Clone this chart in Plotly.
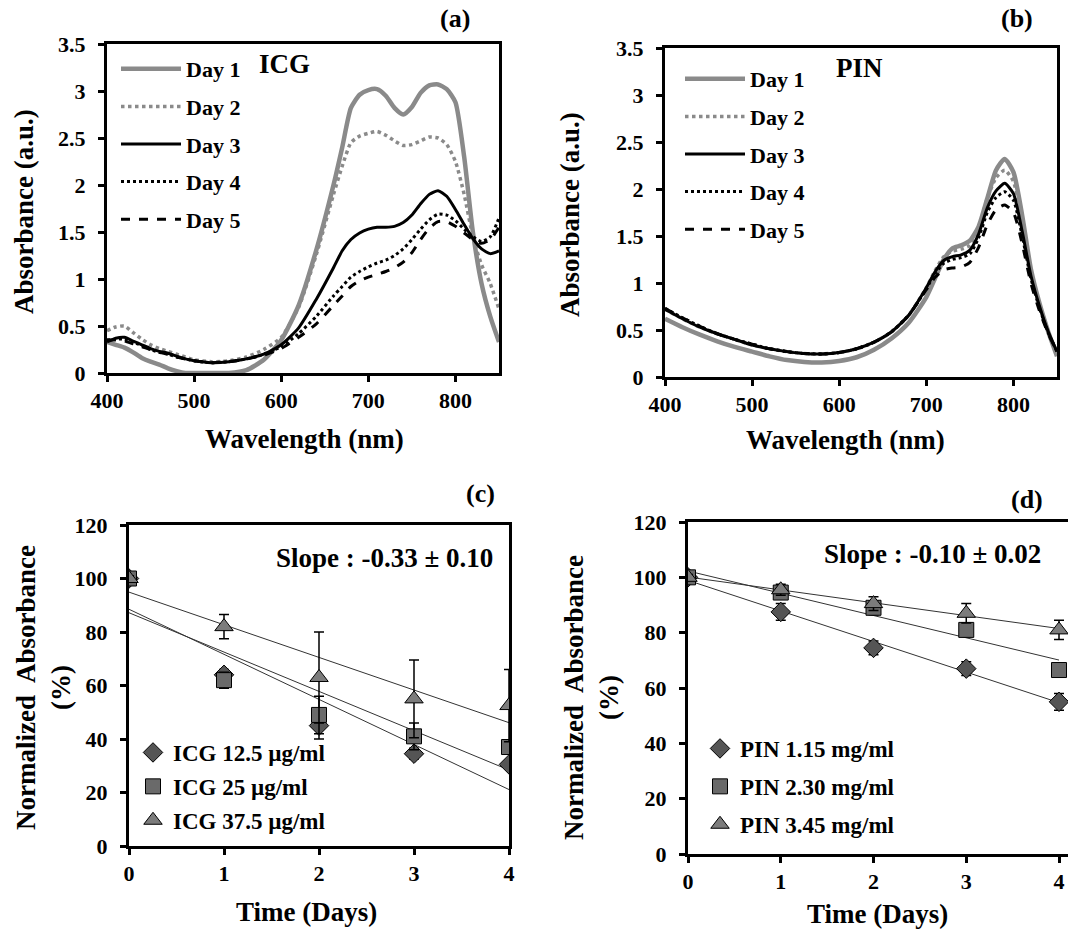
import numpy as np
import plotly.graph_objects as go

FONT = "Liberation Serif"
W, H = 1068, 932

# ---------------- data ----------------
wl_a = [400, 410, 420, 430, 440, 450, 460, 470, 480, 490, 500, 520, 540, 560, 580, 600, 620, 640, 660, 670,
        680, 690, 700, 710, 720, 730, 740, 750, 760, 770, 780, 790, 800, 810, 820, 830, 840, 850]
icg_day1 = [.33, .30, .27, .22, .16, .12, .09, .05, .02, 0, 0, 0, 0, .03, .14, .35, .72, 1.3, 2.0, 2.4,
            2.82, 2.96, 3.01, 3.02, 2.95, 2.82, 2.75, 2.83, 2.98, 3.06, 3.07, 3.02, 2.88, 2.3, 1.5, .95, .6, .33]
icg_day2 = [.45, .49, .50, .43, .36, .30, .26, .23, .20, .17, .14, .12, .13, .17, .25, .38, .70, 1.25, 1.9, 2.2,
            2.45, 2.52, 2.55, 2.57, 2.53, 2.47, 2.42, 2.43, 2.47, 2.51, 2.5, 2.43, 2.25, 1.9, 1.45, 1.15, .95, .68]
icg_day3 = [.33, .37, .38, .34, .30, .26, .23, .21, .18, .15, .13, .11, .12, .15, .20, .30, .48, .78, 1.12, 1.3,
            1.42, 1.49, 1.53, 1.55, 1.55, 1.56, 1.6, 1.68, 1.8, 1.9, 1.94, 1.88, 1.74, 1.58, 1.43, 1.32, 1.27, 1.3]
icg_day4 = [.35, .36, .36, .33, .29, .25, .22, .20, .17, .15, .13, .11, .12, .15, .20, .28, .42, .60, .82, .92,
            1.02, 1.08, 1.13, 1.17, 1.2, 1.25, 1.32, 1.42, 1.53, 1.63, 1.69, 1.68, 1.62, 1.53, 1.45, 1.4, 1.45, 1.65]
icg_day5 = [.35, .35, .34, .31, .28, .25, .22, .20, .17, .15, .13, .11, .12, .15, .19, .26, .38, .52, .72, .82,
            .92, .98, 1.02, 1.05, 1.08, 1.12, 1.18, 1.28, 1.42, 1.54, 1.61, 1.61, 1.56, 1.49, 1.42, 1.38, 1.42, 1.55]

wl_b = [400, 420, 440, 460, 480, 500, 520, 540, 560, 580, 600, 620, 640, 660, 680, 700, 710, 720, 730, 740,
        750, 760, 770, 780, 790, 800, 810, 820, 830, 840, 850]
pin_day1 = [.62, .53, .45, .38, .32, .27, .22, .18, .16, .155, .17, .21, .29, .41, .58, .85, 1.05, 1.25, 1.37, 1.4,
            1.45, 1.6, 1.9, 2.2, 2.32, 2.18, 1.72, 1.15, .78, .48, .22]
pin_day2 = [.72, .62, .53, .46, .40, .34, .30, .27, .25, .245, .26, .30, .37, .48, .66, .95, 1.13, 1.28, 1.34, 1.36,
            1.4, 1.58, 1.9, 2.12, 2.2, 2.08, 1.65, 1.12, .77, .48, .26]
pin_day3 = [.72, .62, .53, .46, .40, .34, .30, .27, .25, .245, .26, .30, .37, .48, .66, .95, 1.12, 1.24, 1.28, 1.3,
            1.35, 1.52, 1.8, 1.98, 2.06, 1.95, 1.55, 1.08, .75, .48, .27]
pin_day4 = [.73, .63, .54, .46, .40, .35, .30, .27, .25, .245, .26, .30, .37, .48, .66, .94, 1.1, 1.21, 1.25, 1.27,
            1.31, 1.48, 1.75, 1.91, 1.97, 1.88, 1.5, 1.05, .73, .47, .27]
pin_day5 = [.73, .63, .54, .46, .40, .35, .30, .27, .25, .245, .26, .30, .37, .48, .66, .93, 1.06, 1.14, 1.16, 1.17,
            1.22, 1.38, 1.62, 1.78, 1.83, 1.75, 1.42, 1.0, .70, .46, .27]

day_names = ["Day 1", "Day 2", "Day 3", "Day 4", "Day 5"]

days = [0, 1, 2, 3, 4]
icg_125 = [100, 64, 45, 34.5, 30.5]
icg_125_err = [1, 2, 5, 2, 1.5]
icg_25 = [100, 62, 49, 41, 37]
icg_25_err = [1, 3, 7, 5, 2]
icg_375 = [100, 82, 63, 55, 52.5]
icg_375_err = [1, 4.5, 17, 14.5, 13.5]
icg_names = ["ICG 12.5 µg/ml", "ICG 25 µg/ml", "ICG 37.5 µg/ml"]

pin_115 = [100, 87.5, 74.5, 67, 55]
pin_115_err = [1, 3, 2.5, 2.5, 3]
pin_230 = [100, 94.5, 89, 81, 66.5]
pin_230_err = [1, 2, 2.5, 2, 2]
pin_345 = [100, 95.5, 90.5, 87, 81]
pin_345_err = [1, 2, 2.5, 3.5, 3.5]
pin_names = ["PIN 1.15 mg/ml", "PIN 2.30 mg/ml", "PIN 3.45 mg/ml"]

# ---------------- styles ----------------
line_styles = [
    dict(color="#8a8a8a", width=4.5, dash="solid"),
    dict(color="#8a8a8a", width=3.5, dash="dot"),
    dict(color="black", width=3, dash="solid"),
    dict(color="black", width=3, dash="dot"),
    dict(color="black", width=3, dash="dash"),
]
marker_styles = [
    dict(symbol="diamond", size=15, color="#555555"),
    dict(symbol="square", size=15, color="#6a6a6a"),
    dict(symbol="triangle-up", size=16, color="#7c7c7c"),
]


def px(x):
    return x / W


def py(y):
    return 1 - y / H


fig = go.Figure()

spectra = [
    (wl_a, [icg_day1, icg_day2, icg_day3, icg_day4, icg_day5], "x", "y", "legend"),
    (wl_b, [pin_day1, pin_day2, pin_day3, pin_day4, pin_day5], "x2", "y2", "legend2"),
]
for wl, series, xa, ya, lg in spectra:
    for i, vals in enumerate(series):
        fig.add_trace(go.Scatter(
            x=wl, y=vals, mode="lines", line=dict(**line_styles[i], shape="spline", smoothing=0.6),
            name=day_names[i], xaxis=xa, yaxis=ya, legend=lg, legendgroup=lg + str(i),
        ))

kinetics = [
    ([icg_125, icg_25, icg_375], [icg_125_err, icg_25_err, icg_375_err], icg_names, "x3", "y3", "legend3"),
    ([pin_115, pin_230, pin_345], [pin_115_err, pin_230_err, pin_345_err], pin_names, "x4", "y4", "legend4"),
]
for series, errs, names, xa, ya, lg in kinetics:
    # linear trend lines (least-squares fit of each series)
    for vals in series:
        k, b = np.polyfit(days, vals, 1)
        xs = np.array([days[0], days[-1]])
        fig.add_trace(go.Scatter(
            x=xs, y=k * xs + b, mode="lines", line=dict(color="#333333", width=1),
            showlegend=False, xaxis=xa, yaxis=ya, hoverinfo="skip",
        ))
    for i, (vals, err) in enumerate(zip(series, errs)):
        ms = marker_styles[i]
        fig.add_trace(go.Scatter(
            x=days, y=vals, mode="markers", name=names[i],
            marker=dict(symbol=ms["symbol"], size=ms["size"], color=ms["color"],
                        line=dict(color="black", width=1)),
            error_y=dict(type="data", array=err, visible=True, color="black", thickness=1.5, width=5),
            xaxis=xa, yaxis=ya, legend=lg, legendgroup=lg + str(i),
        ))

tickfont = dict(family=FONT, size=22, color="black", weight="bold")
base_axis = dict(showline=True, linewidth=3, linecolor="black", ticks="outside", ticklen=6, tickwidth=3,
                 tickcolor="black", showgrid=False, zeroline=False, tickfont=tickfont, mirror=True,
                 automargin=False)

dom = {
    "a": ([px(107), px(499)], [py(373), py(44)]),
    "b": ([px(665), px(1057)], [py(377), py(48)]),
    "c": ([px(129), px(509)], [py(846), py(525)]),
    "d": ([px(688), 1.0], [py(854), py(522)]),
}

fig.update_layout(
    xaxis=dict(base_axis, domain=dom["a"][0], range=[400, 850], tickvals=[400, 500, 600, 700, 800], anchor="y"),
    yaxis=dict(base_axis, domain=dom["a"][1], range=[0, 3.5], dtick=0.5, anchor="x", ticklabelstandoff=8),
    xaxis2=dict(base_axis, domain=dom["b"][0], range=[400, 850], tickvals=[400, 500, 600, 700, 800], anchor="y2"),
    yaxis2=dict(base_axis, domain=dom["b"][1], range=[0, 3.5], dtick=0.5, anchor="x2", ticklabelstandoff=8),
    xaxis3=dict(base_axis, domain=dom["c"][0], range=[0, 4], dtick=1, anchor="y3"),
    yaxis3=dict(base_axis, domain=dom["c"][1], range=[0, 120], dtick=20, anchor="x3", ticklabelstandoff=8),
    xaxis4=dict(base_axis, domain=dom["d"][0], range=[0, 4.097], tickvals=[0, 1, 2, 3, 4], anchor="y4"),
    yaxis4=dict(base_axis, domain=dom["d"][1], range=[0, 120], dtick=20, anchor="x4", mirror=False,
                ticklabelstandoff=8),
)

legend_base = dict(bgcolor="rgba(0,0,0,0)", borderwidth=0, xanchor="left", yanchor="top",
                   font=dict(family=FONT, size=22, color="black", weight="bold"),
                   traceorder="grouped", itemwidth=60)
fig.update_layout(
    legend=dict(legend_base, x=px(116), y=py(48), tracegroupgap=6),
    legend2=dict(legend_base, x=px(680), y=py(58), tracegroupgap=6),
    legend3=dict(legend_base, x=px(133), y=py(731), tracegroupgap=1, itemwidth=30,
                 font=dict(family=FONT, size=23, color="black", weight="bold")),
    legend4=dict(legend_base, x=px(700), y=py(727), tracegroupgap=5, itemwidth=30,
                 font=dict(family=FONT, size=23, color="black", weight="bold")),
)

ann_font = dict(family=FONT, color="black", weight="bold")
annots = [
    ("(a)", 455, 18, 26, 0), ("(b)", 1017, 18, 26, 0), ("(c)", 480, 493, 26, 0), ("(d)", 1027, 499, 26, 0),
    ("ICG", 284, 64, 27, 0), ("PIN", 859, 68, 27, 0),
    ("Slope : -0.33 ± 0.10", 384, 558, 27, 0), ("Slope : -0.10 ± 0.02", 932, 554, 27, 0),
    ("Wavelength (nm)", 304, 439, 27, 0), ("Wavelength (nm)", 845, 440, 27, 0),
    ("Absorbance (a.u.)", 24, 212, 27, -90), ("Absorbance (a.u.)", 570, 215, 27, -90),
    ("Time (Days)", 306, 912, 27, 0), ("Time (Days)", 877, 914, 27, 0),
    ("Normalized  Absorbance<br>(%)", 43, 688, 27, -90), ("Normalized  Absorbance<br>(%)", 591, 698, 27, -90),
]
for text, x, y, size, ang in annots:
    fig.add_annotation(text=text, x=px(x), y=py(y), xref="paper", yref="paper", showarrow=False,
                       xanchor="center", yanchor="middle", textangle=ang,
                       font=dict(ann_font, size=size))

fig.update_layout(width=W, height=H, margin=dict(l=0, r=0, t=0, b=0, pad=0), autosize=False,
                  paper_bgcolor="white", plot_bgcolor="white",
                  font=dict(family=FONT, color="black"))

fig.write_html("out.html", config={"displayModeBar": False},
               post_script="document.body.style.margin='0px';document.body.style.overflow='hidden';")
